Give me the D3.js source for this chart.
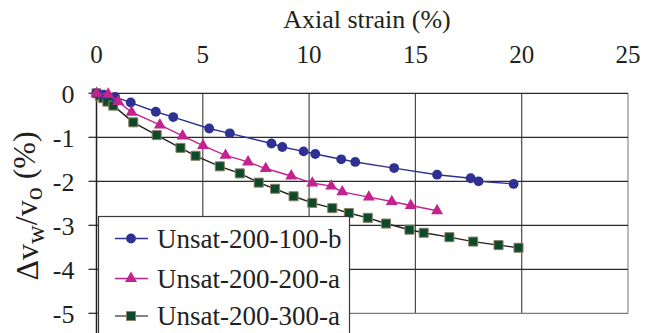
<!DOCTYPE html>
<html>
<head>
<meta charset="utf-8">
<script src="https://cdn.jsdelivr.net/npm/d3@7"></script>
</head>
<body style="margin:0;background:#fff">
<svg id="chart" width="654" height="333" style="display:block"></svg>
<script>
// Axis ticks
const xTicks = [0, 5, 10, 15, 20, 25];
const yTicks = [0, -1, -2, -3, -4, -5];

// Series names (legend order)
const seriesNames = ["Unsat-200-100-b", "Unsat-200-200-a", "Unsat-200-300-a"];

// Unsat-200-100-b: axial strain (%) and water volume change (%)
const strainB100 = [0, 0.35, 0.87, 1.61, 2.79, 3.61, 5.30, 6.27, 8.23, 8.74, 9.74, 10.29, 11.51, 12.17, 14.00, 16.02, 17.60, 17.97, 19.62];
const volB100    = [0, -0.03, -0.08, -0.21, -0.42, -0.54, -0.80, -0.91, -1.14, -1.22, -1.32, -1.38, -1.50, -1.56, -1.70, -1.85, -1.93, -2.00, -2.06];

// Unsat-200-200-a
const strainA200 = [0, 0.55, 1.02, 1.65, 2.98, 4.05, 5.01, 6.07, 7.13, 7.96, 9.16, 10.15, 11.04, 11.56, 12.81, 13.89, 14.78, 16.02];
const volA200    = [0, -0.02, -0.19, -0.43, -0.72, -0.97, -1.19, -1.41, -1.56, -1.71, -1.88, -2.04, -2.11, -2.24, -2.36, -2.46, -2.55, -2.67];

// Unsat-200-300-a
const strainA300 = [0, 0.16, 0.32, 0.51, 0.79, 1.73, 2.83, 3.95, 4.66, 5.80, 6.74, 7.63, 8.40, 9.27, 10.15, 11.09, 11.87, 12.76, 13.62, 14.72, 15.39, 16.60, 17.72, 18.91, 19.85];
const volA300    = [0, -0.06, -0.11, -0.19, -0.28, -0.66, -0.95, -1.24, -1.42, -1.66, -1.82, -2.03, -2.17, -2.34, -2.49, -2.61, -2.72, -2.83, -2.96, -3.10, -3.17, -3.27, -3.37, -3.45, -3.51];

const FONT = "Times New Roman";
const INK = "#231f20";

const svg = d3.select("#chart");

const x = d3.scaleLinear().domain([0, 25]).range([96.5, 628]);
const y = d3.scaleLinear().domain([0, -5]).range([93.3, 313.3]);

const series = [
  { name: seriesNames[0], xs: strainB100, ys: volB100, symbol: d3.symbolCircle, size: 76,
    fill: "#2e3192", stroke: "#2e3192", strokeW: 0, line: "#2e3192", legendLine: "#2e3192" },
  { name: seriesNames[1], xs: strainA200, ys: volA200, symbol: d3.symbolTriangle, size: 62,
    fill: "#c4238f", stroke: "#c4238f", strokeW: 0, line: "#c4238f", legendLine: "#c4238f" },
  { name: seriesNames[2], xs: strainA300, ys: volA300, symbol: d3.symbolSquare, size: 82,
    fill: "#0d4a2b", stroke: "#8c8262", strokeW: 1, line: INK, legendLine: "#5a5a5a" }
];

// Gridlines
const grid = svg.append("g");
grid.selectAll("line.v").data(xTicks.slice(1)).join("line")
  .attr("x1", d => x(d)).attr("x2", d => x(d))
  .attr("y1", y(0)).attr("y2", y(-5))
  .attr("stroke", d => d === 25 ? "#8a8a8a" : "#4a4a4a").attr("stroke-width", 1.2);
grid.selectAll("line.h").data(yTicks).join("line")
  .attr("x1", x(0)).attr("x2", x(25))
  .attr("y1", d => y(d)).attr("y2", d => y(d))
  .attr("stroke", d => d === -5 ? "#7a7a7a" : "#2a2a2a").attr("stroke-width", 1.2);

// Top x axis: tick labels placed from the scale
svg.append("g").selectAll("text").data(xTicks).join("text")
  .attr("x", d => x(d)).attr("y", 63)
  .attr("text-anchor", "middle")
  .attr("font-family", FONT).attr("font-size", 25).attr("fill", INK)
  .text(d => String(d));

svg.append("text")
  .attr("x", 367).attr("y", 28)
  .attr("text-anchor", "middle")
  .attr("font-family", FONT).attr("font-size", 26).attr("fill", INK)
  .text("Axial strain (%)");

// Left y axis: spine, outward ticks and labels
const yAxis = svg.append("g");
yAxis.append("line").attr("x1", x(0)).attr("x2", x(0)).attr("y1", y(0)).attr("y2", 333)
  .attr("stroke", INK).attr("stroke-width", 1.5);
yAxis.selectAll("line.tick").data(yTicks).join("line")
  .attr("x1", x(0) - 8).attr("x2", x(0))
  .attr("y1", d => y(d)).attr("y2", d => y(d))
  .attr("stroke", INK).attr("stroke-width", 1.2);
yAxis.selectAll("text").data(yTicks).join("text")
  .attr("x", x(0) - 22).attr("y", d => y(d) + 10)
  .attr("text-anchor", "end")
  .attr("font-family", FONT).attr("font-size", 26).attr("fill", INK)
  .text(d => String(d));

// Y axis title: Δv_w / v_o (%)
const yt = svg.append("text")
  .attr("transform", "translate(38,206) rotate(-90)")
  .attr("text-anchor", "middle")
  .attr("font-family", FONT).attr("font-size", 32).attr("fill", INK);
yt.append("tspan").text("\u0394v");
yt.append("tspan").attr("font-size", 26).attr("dy", "0.22em").text("w");
yt.append("tspan").attr("dy", "-0.22em").text("/v");
yt.append("tspan").attr("font-size", 26).attr("dy", "0.22em").text("o");
yt.append("tspan").attr("dy", "-0.22em").text(" (%)");

// Series lines and markers
const lineGen = d3.line().x(d => x(d[0])).y(d => y(d[1]));
const drawOrder = [2, 0, 1];
drawOrder.forEach(i => {
  const s = series[i];
  const pts = s.xs.map((v, k) => [v, s.ys[k]]);
  svg.append("path").datum(pts)
    .attr("d", lineGen).attr("fill", "none")
    .attr("stroke", s.line).attr("stroke-width", 1.4);
  svg.append("g").selectAll("path").data(pts).join("path")
    .attr("transform", d => `translate(${x(d[0])},${y(d[1])})`)
    .attr("d", d3.symbol().type(s.symbol).size(s.size))
    .attr("fill", s.fill).attr("stroke", s.stroke).attr("stroke-width", s.strokeW);
});

// Legend
const legend = svg.append("g");
legend.append("rect")
  .attr("x", 98.5).attr("y", 216.5).attr("width", 251).attr("height", 130)
  .attr("fill", "#fff").attr("stroke", "#3a3a3a").attr("stroke-width", 1.2);
const rowY = [238.5, 278.5, 316];
series.forEach((s, i) => {
  const g = legend.append("g").attr("transform", `translate(0,${rowY[i]})`);
  g.append("line").attr("x1", 115).attr("x2", 148).attr("y1", 0).attr("y2", 0)
    .attr("stroke", s.legendLine).attr("stroke-width", 1.4);
  g.append("path").attr("transform", "translate(131,0)")
    .attr("d", d3.symbol().type(s.symbol).size(s.size))
    .attr("fill", s.fill).attr("stroke", s.stroke).attr("stroke-width", s.strokeW);
  g.append("text").attr("x", 157).attr("y", 9)
    .attr("font-family", FONT).attr("font-size", 27).attr("fill", INK)
    .text(s.name);
});
</script>
</body>
</html>
